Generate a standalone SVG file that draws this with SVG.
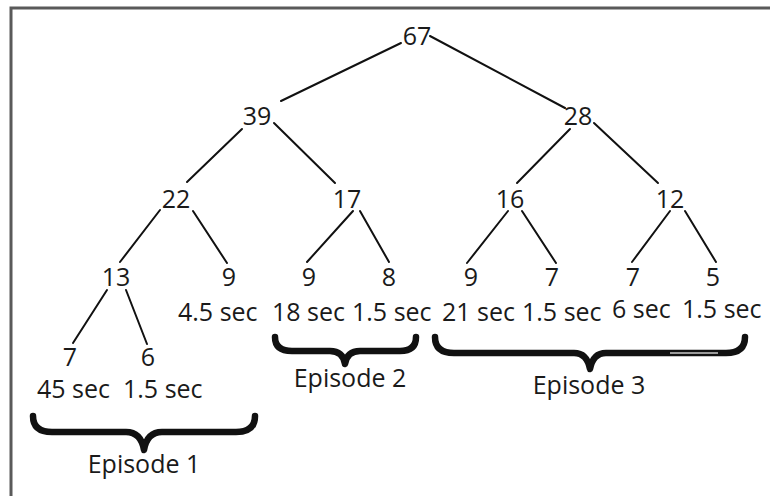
<svg xmlns="http://www.w3.org/2000/svg" width="770" height="496" viewBox="0 0 770 496">
<style>
text{font-family:"Open Sans","Liberation Sans",sans-serif;font-size:25px;fill:#1a1a1a}
.n{text-anchor:middle}
.e{stroke:#111;stroke-width:2;fill:none;stroke-linecap:round}
.b{stroke:#111;stroke-width:6.5;fill:none;stroke-linejoin:round;stroke-linecap:round}
.f{stroke:#5a5a5a;stroke-width:3;fill:none}
</style>
<rect width="770" height="496" fill="#fff"/>
<g id="frame"><path class="f" d="M11,496 V8 H770"/></g>
<g id="connectors">
<line class="e" x1="401" y1="43" x2="281" y2="101"/>
<line class="e" x1="430" y1="36" x2="565" y2="108"/>
<line class="e" x1="242" y1="129" x2="187" y2="182"/>
<line class="e" x1="274" y1="123" x2="335" y2="183"/>
<line class="e" x1="570" y1="129" x2="517" y2="183"/>
<line class="e" x1="594" y1="123" x2="658" y2="183"/>
<line class="e" x1="160" y1="210" x2="120" y2="262"/>
<line class="e" x1="193" y1="211" x2="227" y2="263"/>
<line class="e" x1="353" y1="211" x2="307" y2="262"/>
<line class="e" x1="360" y1="211" x2="389" y2="262"/>
<line class="e" x1="508" y1="211" x2="467" y2="263"/>
<line class="e" x1="522" y1="211" x2="556" y2="263"/>
<line class="e" x1="670" y1="211" x2="632" y2="262"/>
<line class="e" x1="685" y1="211" x2="716" y2="262"/>
<line class="e" x1="107" y1="290" x2="73" y2="343"/>
<line class="e" x1="126" y1="290" x2="147" y2="344"/>
</g>
<g id="n67"><text class="n" x="417" y="45">67</text></g>
<g id="n39"><text class="n" x="257" y="125">39</text></g>
<g id="n28"><text class="n" x="578" y="125">28</text></g>
<g id="n22"><text class="n" x="176" y="208">22</text></g>
<g id="n17"><text class="n" x="347" y="208">17</text></g>
<g id="n16"><text class="n" x="510" y="208">16</text></g>
<g id="n12"><text class="n" x="670" y="208">12</text></g>
<g id="n13"><text class="n" x="116" y="286">13</text></g>
<g id="n9a"><text class="n" x="229" y="286">9</text><text x="178" y="321">4.5 sec</text></g>
<g id="n9b"><text class="n" x="309" y="286">9</text><text x="272" y="321">18 sec</text></g>
<g id="n8"><text class="n" x="389" y="286">8</text><text x="352" y="321">1.5 sec</text></g>
<g id="n9c"><text class="n" x="471" y="286">9</text><text x="442" y="321">21 sec</text></g>
<g id="n7a"><text class="n" x="552" y="286">7</text><text x="522" y="321">1.5 sec</text></g>
<g id="n7b"><text class="n" x="633" y="286">7</text><text x="612" y="318">6 sec</text></g>
<g id="n5"><text class="n" x="713" y="286">5</text><text x="682" y="318">1.5 sec</text></g>
<g id="n7c"><text class="n" x="70" y="366">7</text><text x="37" y="398">45 sec</text></g>
<g id="n6"><text class="n" x="148" y="366">6</text><text x="123" y="398">1.5 sec</text></g>
<g id="episode1">
<path class="b" d="M33,416 Q33,432 52,432 L126,432 Q141,432 144,450 Q147,432 162,432 L236,432 Q255,432 255,416"/>
<text class="n" x="144" y="473">Episode 1</text>
</g>
<g id="episode2">
<path class="b" d="M275,337 Q275,351 292,351 L330,351 Q343,351 345,364 Q347,351 360,351 L400,351 Q416,351 416,337"/>
<text class="n" x="350" y="387">Episode 2</text>
</g>
<g id="episode3">
<path class="b" d="M435,337 Q435,353 454,353 L574,353 Q587,353 590,369 Q593,353 606,353 L726,353 Q745,353 745,337"/>
<line x1="670" y1="353" x2="718" y2="353" stroke="#9a9a9a" stroke-width="2"/>
<text class="n" x="589" y="394">Episode 3</text>
</g>
</svg>
